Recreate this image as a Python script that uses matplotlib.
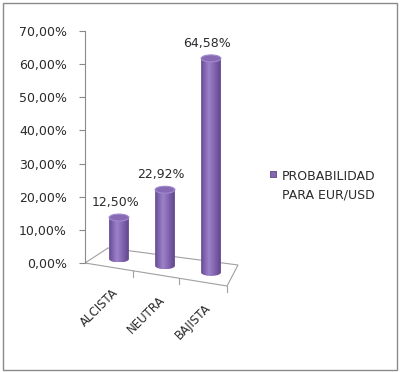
import numpy as np
import matplotlib.pyplot as plt
from matplotlib.patches import Polygon, Ellipse, Rectangle
from matplotlib.colors import LinearSegmentedColormap

# data
categories = ['ALCISTA', 'NEUTRA', 'BAJISTA']
values = [12.50, 22.92, 64.58]
value_labels = ['12,50%', '22,92%', '64,58%']
yticks = [0, 10, 20, 30, 40, 50, 60, 70]
ytick_labels = ['0,00%', '10,00%', '20,00%', '30,00%', '40,00%', '50,00%', '60,00%', '70,00%']
series_name = ['PROBABILIDAD', 'PARA EUR/USD']

grey = '#8a8a8a'
txt = '#2a2a2a'
cyl = LinearSegmentedColormap.from_list(
    'cyl', ['#634a8e', '#8466b2', '#9c82c8', '#8a6db6', '#7558a4', '#5e4688'])

fig = plt.figure(figsize=(4, 3.72), dpi=100)
ax = fig.add_axes([85 / 400, 72 / 372, 155 / 400, 280 / 372])
xlim = (-0.739, 2.63)
ylim = (-11.16, 73.32)

# floor of the 3d box (perspective corners)
floor = [(-0.739, 0), (2.348, -6.94), (2.587, -0.60), (-0.239, 4.53)]
ax.add_patch(Polygon(floor, closed=True, fc='white', ec='#a0a0a0', lw=0.8, zorder=1))


def front_y(x):
    return -2.248 * (x + 0.739)


def back_y(x):
    return 4.53 - 1.815 * (x + 0.239)


# little ticks on the front edge of the floor
for tx in [0.3, 1.3, 2.348]:
    fy = front_y(tx)
    ax.plot([tx, tx], [fy, fy - 1.8], color='#a0a0a0', lw=0.8, zorder=1)

w = 0.43
cap_h = 2.1
grad = np.linspace(0, 1, 256).reshape(1, -1)
for i, (v, lab) in enumerate(zip(values, value_labels)):
    base = (front_y(i) + back_y(i)) / 2
    top = base + v
    t = np.linspace(np.pi, 2 * np.pi, 40)
    pts = [(i - w / 2, top)]
    pts += list(zip(i + w / 2 * np.cos(t), base + cap_h / 2 * np.sin(t)))
    pts += [(i + w / 2, top)]
    body = Polygon(pts, closed=True, fc='none', ec='none', zorder=3)
    ax.add_patch(body)
    im = ax.imshow(grad, cmap=cyl, aspect='auto', zorder=3,
                   extent=[i - w / 2, i + w / 2, base - cap_h / 2, top])
    im.set_clip_path(body)
    ax.add_patch(Ellipse((i, top), w, cap_h, fc='#8869b4', ec='#a08ad0', lw=0.8, zorder=4))
    ax.text(i - 0.08, top + 4.6, lab, ha='center', va='center', fontsize=9, color=txt)
    ax.text(i - 0.15, front_y(i - 0.15) - 5.7, categories[i], rotation=45,
            rotation_mode='anchor', ha='right', va='top', fontsize=8.5, color=txt)

ax.set_xlim(*xlim)
ax.set_ylim(*ylim)
ax.set_xticks([])
ax.set_yticks(yticks)
ax.set_yticklabels(ytick_labels, fontsize=9, color=txt)
ax.tick_params(axis='y', direction='out', length=4, color=grey, pad=9)
for s in ['top', 'right', 'bottom']:
    ax.spines[s].set_visible(False)
ax.spines['left'].set_bounds(0, 70)
ax.spines['left'].set_color(grey)
ax.patch.set_visible(False)

# legend
fig.add_artist(Rectangle((270 / 400, 1 - 177 / 372), 6 / 400, 6 / 372, transform=fig.transFigure,
                         fc='#8467b0', ec='#5a4282', lw=0.6))
fig.text(282 / 400, 1 - 176 / 372, series_name[0], va='center', fontsize=9, color=txt)
fig.text(282 / 400, 1 - 195 / 372, series_name[1], va='center', fontsize=9, color=txt)

# outer frame
fig.add_artist(Rectangle((3 / 400, 2 / 372), 394 / 400, 367 / 372, transform=fig.transFigure,
                         fill=False, ec=grey, lw=1))

fig.savefig('out.png', dpi=100)
